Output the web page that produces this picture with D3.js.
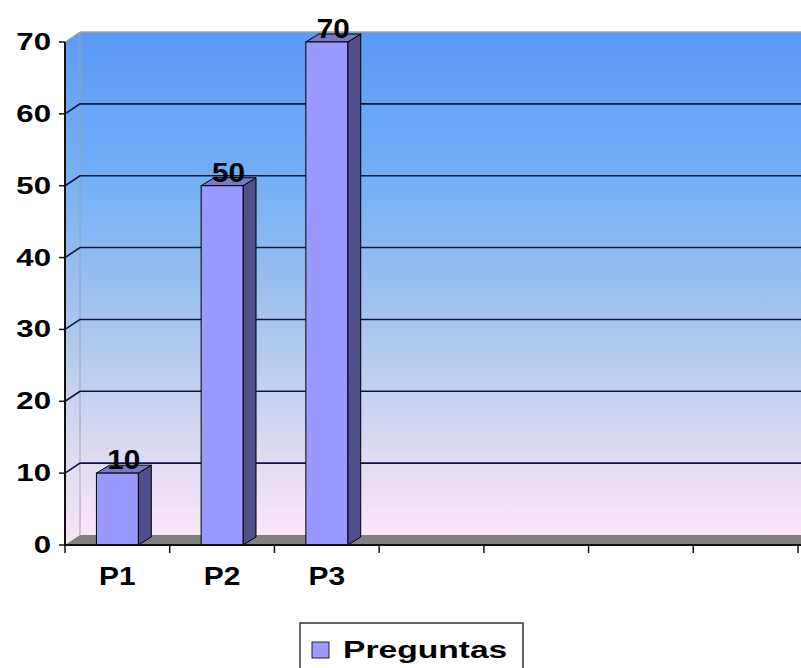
<!DOCTYPE html>
<html><head><meta charset="utf-8">
<script src="https://cdn.jsdelivr.net/npm/d3@7"></script>
<style>body{margin:0;background:#fff}svg{display:block}text{font-family:"Liberation Sans",Arial,sans-serif;font-weight:bold;fill:#000}</style>
</head><body><svg id="c" width="801" height="668"></svg>
<script>
const categories = ["P1","P2","P3","","","",""];
const values = [10, 50, 70, null, null, null, null];
const yTicks = [0,10,20,30,40,50,60,70];
const seriesName = "Preguntas";

const svg = d3.select("#c");
const W = 801;
const x0 = 65, x1 = 798, yBase = 545, yTop = 42;
const wdx = 15, wdy = -10;   // wall depth
const bdx = 13, bdy = -8;    // bar depth

const x = d3.scaleBand().domain(d3.range(categories.length)).range([x0, x1]).paddingInner(0.6).paddingOuter(0.3);
const xb = d3.scaleBand().domain(d3.range(categories.length)).range([x0, x1]);
const y = d3.scaleLinear().domain([0,70]).range([yBase, yTop]);

const defs = svg.append("defs");
const g = defs.append("linearGradient").attr("id","bg").attr("x1",0).attr("y1",0).attr("x2",0).attr("y2",1);
[["0%","#5a99f6"],["30%","#74b0f6"],["55%","#a2c3ee"],["78%","#d3d6f0"],["100%","#fbe7f8"]]
  .forEach(([o,c])=>g.append("stop").attr("offset",o).attr("stop-color",c));
const gs = defs.append("linearGradient").attr("id","bgs").attr("x1",0).attr("y1",0).attr("x2",0).attr("y2",1);
[["0%","#5f9cf3"],["30%","#7ab2f3"],["55%","#a6c4ec"],["78%","#d6d8ef"],["100%","#f6e6f4"]]
  .forEach(([o,c])=>gs.append("stop").attr("offset",o).attr("stop-color",c));

// back wall
svg.append("rect").attr("x", x0+wdx).attr("y", y(70)+wdy).attr("width", W-(x0+wdx)).attr("height", (y(0)+wdy)-(y(70)+wdy))
  .attr("fill","url(#bg)");
// side wall
svg.append("path").attr("d", `M${x0},${y(70)} L${x0+wdx},${y(70)+wdy} L${x0+wdx},${y(0)+wdy} L${x0},${y(0)} Z`)
  .attr("fill","url(#bgs)");
svg.append("line").attr("x1",x0+wdx).attr("x2",x0+wdx).attr("y1",y(70)+wdy).attr("y2",y(0)+wdy).attr("stroke","#9aa0b0").attr("stroke-width",1);
svg.append("line").attr("x1",x0).attr("x2",x0+wdx).attr("y1",y(70)).attr("y2",y(70)+wdy).attr("stroke","#9aa0b0");
svg.append("line").attr("x1",x0+wdx).attr("x2",W).attr("y1",y(70)+wdy).attr("y2",y(70)+wdy).attr("stroke","#a0a0a0").attr("stroke-width",1.5);

// gridlines
yTicks.filter(t=>t>0 && t<70).forEach(t=>{
  svg.append("path").attr("d", `M${x0},${y(t)} L${x0+wdx},${y(t)+wdy} L${W},${y(t)+wdy}`)
    .attr("fill","none").attr("stroke","#0d1640").attr("stroke-width",1.6);
});

// floor
svg.append("path").attr("d", `M${x0},${y(0)} L${x0+wdx},${y(0)+wdy} L${W},${y(0)+wdy} L${W},${y(0)} Z`)
  .attr("fill","#808080");

// bars
const data = values.map((v,i)=>({i,v})).filter(d=>d.v!=null);
const bars = svg.append("g").selectAll("g").data(data).join("g");
bars.append("path").attr("d", d=>{const l=x(d.i), r=l+x.bandwidth(), t=y(d.v), b=y(0);
    return `M${r},${b} L${r+bdx},${b+bdy} L${r+bdx},${t+bdy} L${r},${t} Z`;})
  .attr("fill","#4f4f8a").attr("stroke","#000").attr("stroke-width",1);
bars.append("path").attr("d", d=>{const l=x(d.i), r=l+x.bandwidth(), t=y(d.v);
    return `M${l},${t} L${l+bdx},${t+bdy} L${r+bdx},${t+bdy} L${r},${t} Z`;})
  .attr("fill","#7878c8").attr("stroke","#000").attr("stroke-width",1);
bars.append("rect").attr("x", d=>x(d.i)).attr("y", d=>y(d.v)).attr("width", x.bandwidth()).attr("height", d=>y(0)-y(d.v))
  .attr("fill","#9999ff").attr("stroke","#000").attr("stroke-width",1);
bars.append("text").attr("text-anchor","middle").attr("font-size",27)
  .attr("transform", d=>`translate(${x(d.i)+x.bandwidth()/2+bdx/2},${y(d.v)-4}) scale(1.1,1)`)
  .text(d=>d.v);

// y axis
svg.append("line").attr("x1",x0).attr("x2",x0).attr("y1",y(70)).attr("y2",y(0)+1).attr("stroke","#111").attr("stroke-width",2);
yTicks.forEach(t=>{
  svg.append("line").attr("x1",x0-6).attr("x2",x0).attr("y1",y(t)).attr("y2",y(t)).attr("stroke","#111").attr("stroke-width",1.5);
  svg.append("text").attr("text-anchor","end").attr("font-size",24)
    .attr("transform",`translate(51,${y(t)+8}) scale(1.3,1)`).text(t);
});

// x axis
svg.append("line").attr("x1",x0).attr("x2",W).attr("y1",y(0)).attr("y2",y(0)).attr("stroke","#111").attr("stroke-width",2);
d3.range(categories.length+1).forEach(i=>{
  const xx = i<categories.length ? xb(i) : x1;
  svg.append("line").attr("x1",xx).attr("x2",xx).attr("y1",y(0)).attr("y2",y(0)+8).attr("stroke","#111").attr("stroke-width",1.5);
});
categories.forEach((c,i)=>{
  svg.append("text").attr("text-anchor","middle").attr("font-size",26)
    .attr("transform",`translate(${xb(i)+xb.bandwidth()/2},585) scale(1.15,1)`).text(c);
});

// legend
svg.append("rect").attr("x",300).attr("y",623).attr("width",223).attr("height",60)
  .attr("fill","#fff").attr("stroke","#333").attr("stroke-width",1.5);
svg.append("rect").attr("x",312).attr("y",642).attr("width",17).attr("height",16)
  .attr("fill","#9999ff").attr("stroke","#222").attr("stroke-width",1);
svg.append("text").attr("font-size",24).attr("transform","translate(343,658) scale(1.4,1)").text(seriesName);
</script></body></html>
